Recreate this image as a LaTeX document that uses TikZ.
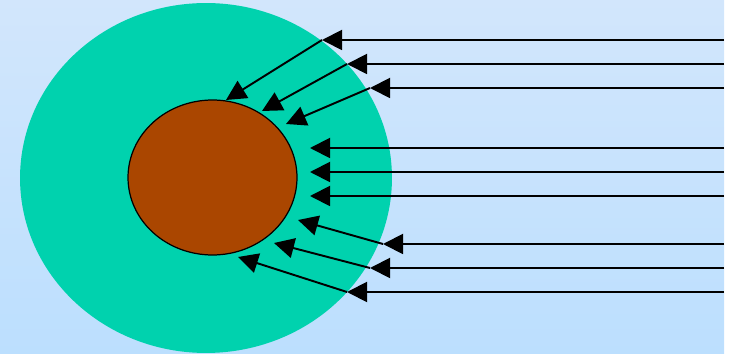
\documentclass[tikz,border=0pt]{standalone}
\usetikzlibrary{arrows.meta, shapes.geometric}
\definecolor{skytop}{HTML}{D2E6FC}
\definecolor{skybottom}{HTML}{BCDFFE}
\definecolor{shellteal}{HTML}{00D2AE}
\definecolor{corebrown}{HTML}{AA4600}

\begin{document}
\begin{tikzpicture}[
    x=0.02cm, y=-0.02cm,
    ray/.style={-{Triangle[length=0.4cm, width=0.4cm]}, line width=1.1pt},
    shell/.style={ellipse, inner sep=0pt, fill=shellteal,
                  minimum width=7.44cm, minimum height=7.0cm},
    core/.style={ellipse, inner sep=0pt, fill=corebrown, draw=black,
                 line width=0.7pt, minimum width=3.38cm, minimum height=3.1cm},
]

% === Background ===
\useasboundingbox (0,0) rectangle (733,354);
\fill[top color=skytop, bottom color=skybottom] (0,0) rectangle (724,354);

% === Shell and core ===
\node[shell] (shell) at (206,178) {};
\node[core]  (core)  at (212.5,177.5) {};

% === Ray sources at the right edge ===
\foreach \i/\y in {1/40, 2/64, 3/88, 4/148, 5/172, 6/196, 7/244, 8/268, 9/292}
  \coordinate (src\i) at (724,\y);

% === Points where rays hit the shell ===
\coordinate (hit1) at (322,40);
\coordinate (hit2) at (347,64);
\coordinate (hit3) at (370,88);
\coordinate (hit4) at (310,148);
\coordinate (hit5) at (310,172);
\coordinate (hit6) at (310,196);
\coordinate (hit7) at (383,244);
\coordinate (hit8) at (370,268);
\coordinate (hit9) at (347,292);

% === Points where rays reach the core ===
\coordinate (end1) at (226,100);
\coordinate (end2) at (262,111);
\coordinate (end3) at (286,124);
\coordinate (end7) at (298,220);
\coordinate (end8) at (274,243);
\coordinate (end9) at (238,257);

% === Rays ===
\foreach \i in {1,...,9}
  \draw[ray] (src\i) -- (hit\i);
\foreach \i in {1,2,3,7,8,9}
  \draw[ray] (hit\i) -- (end\i);

\end{tikzpicture}
\end{document}
